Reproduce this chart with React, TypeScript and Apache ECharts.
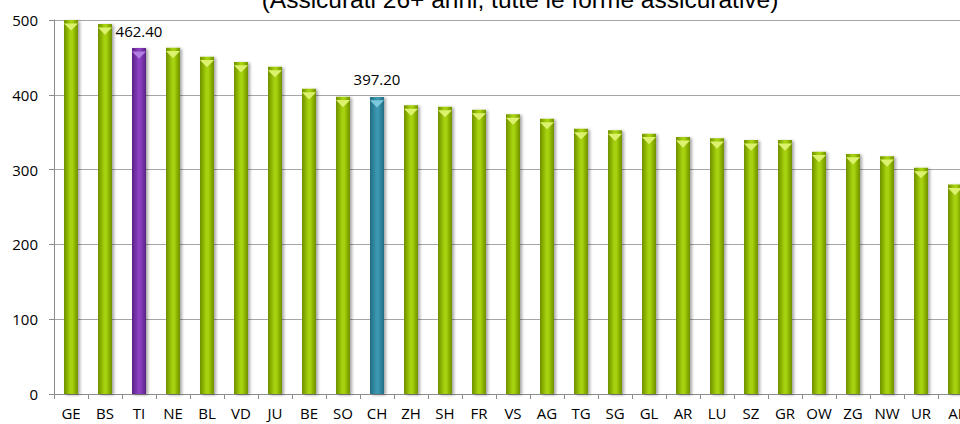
import React, { useEffect, useRef } from "react";
import * as echarts from "echarts";

const categories = ["GE","BS","TI","NE","BL","VD","JU","BE","SO","CH","ZH","SH","FR","VS","AG","TG","SG","GL","AR","LU","SZ","GR","OW","ZG","NW","UR","AI"];
const values = [500,494.5,462.4,463,451,444,437.5,408,397.5,397.2,386,384,380,374,368,354.5,352.5,348,343.5,342,339.5,339.5,324,321,318,302.5,280];
const labelled = ["TI","CH"];
const titleText = "(Assicurati 26+ anni, tutte le forme assicurative)";
const yTicks = [0, 100, 200, 300, 400, 500];

const palettes: Record<string, { edge: string; mid: string; cap: string }> = {
  TI: { edge: "#5a2185", mid: "#8a3fc0", cap: "#b27ee0" },
  CH: { edge: "#206d82", mid: "#3b97b0", cap: "#7cc8dc" },
  default: { edge: "#6f9000", mid: "#a6d10a", cap: "#dcf26e" },
};

function pal(c: string) {
  return palettes[c] || palettes.default;
}

export default function App() {
  const ref = useRef<HTMLDivElement>(null);
  useEffect(() => {
    if (!ref.current) return;
    const chart = echarts.init(ref.current, undefined, { renderer: "svg" });
    const font = "'Open Sans', sans-serif";
    const barData = values.map((v, i) => {
      const p = pal(categories[i]);
      return {
        value: v,
        itemStyle: {
          color: new echarts.graphic.LinearGradient(0, 0, 1, 0, [
            { offset: 0, color: p.edge },
            { offset: 0.45, color: p.mid },
            { offset: 0.6, color: p.mid },
            { offset: 1, color: p.edge },
          ]),
        },
        label: { show: labelled.includes(categories[i]) },
      };
    });
    const capData = values.map((v, i) => ({
      value: v,
      itemStyle: { color: pal(categories[i]).cap },
    }));
    chart.setOption({
      animation: false,
      grid: { left: 54, right: 0, top: 20, bottom: 30, containLabel: false },
      graphic: [
        {
          type: "text",
          x: 520,
          y: -1,
          style: {
            text: titleText,
            font: "24.5px 'Liberation Sans', Arial, sans-serif",
            fill: "#000",
            textAlign: "center",
            textVerticalAlign: "middle",
          },
        },
      ],
      xAxis: {
        type: "category",
        data: categories,
        axisLine: { lineStyle: { color: "#8c8c8c", width: 1 } },
        axisTick: { show: true, length: 5, lineStyle: { color: "#8c8c8c" } },
        axisLabel: { color: "#000", fontFamily: font, fontSize: 15, margin: 11, interval: 0 },
      },
      yAxis: {
        type: "value",
        min: 0,
        max: 500,
        interval: 100,
        axisLine: { show: true, lineStyle: { color: "#8c8c8c", width: 1 } },
        axisTick: { show: true, length: 5, lineStyle: { color: "#8c8c8c" } },
        axisLabel: { color: "#000", fontFamily: font, fontSize: 15, margin: 16,
          formatter: (v: number) => (yTicks.includes(v) ? String(v) : "") },
        splitLine: { lineStyle: { color: "#a6a6a6", width: 1 } },
      },
      series: [
        {
          type: "bar",
          data: barData,
          barWidth: 14,
          itemStyle: {
            shadowColor: "rgba(0,0,0,0.35)",
            shadowBlur: 3,
            shadowOffsetX: 2,
            shadowOffsetY: 1,
          },
          label: {
            position: "top",
            distance: 10,
            color: "#000",
            fontFamily: font,
            fontSize: 15,
            formatter: (p: any) => Number(p.value).toFixed(2),
          },
          z: 2,
        },
        {
          type: "pictorialBar",
          data: capData,
          symbol: "path://M0,0 L14,0 L7,7 Z",
          symbolSize: [14, 7],
          symbolPosition: "end",
          symbolOffset: [0, "50%"],
          z: 3,
          silent: true,
        },
      ],
    });
    return () => chart.dispose();
  }, []);
  return (
    <div style={{ position: "fixed", left: 0, top: 0, width: 960, height: 424, overflow: "hidden", background: "#fff" }}>
      <div ref={ref} style={{ width: 972, height: 424 }} />
    </div>
  );
}
